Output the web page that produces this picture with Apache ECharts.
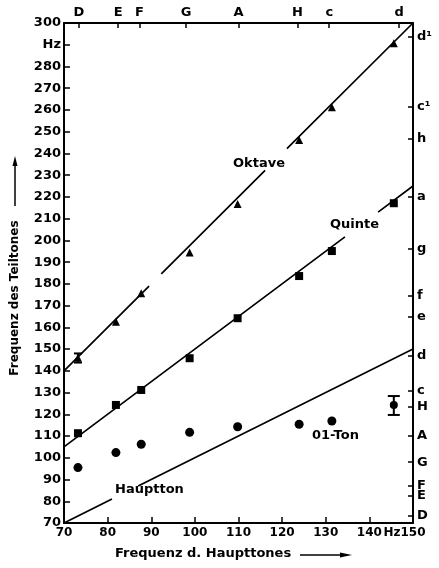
<!DOCTYPE html>
<html>
<head>
<meta charset="utf-8">
<script src="https://cdn.jsdelivr.net/npm/echarts@6/dist/echarts.min.js"></script>
<style>
  html, body { margin: 0; padding: 0; background: #fff; }
  #app { width: 439px; height: 568px; }
</style>
</head>
<body>
<div id="app"></div>
<script>
// Grundton-Frequenzen (x) der gemessenen Töne
const hauptX = [73.2, 81.9, 87.7, 98.8, 109.8, 123.9, 131.4, 145.6];
const oktave = [146, 162.6, 175.7, 194.4, 216.7, 246.2, 261.2, 290.7];
const quinte = [111.3, 124.3, 131.2, 145.8, 164.2, 183.6, 195.1, 217.1];
const olTon = [95.5, 102.4, 106.2, 111.7, 114.3, 115.4, 116.9];
// Fehlerbalken [x, unten, mitte, oben]
const olTonBar = [[145.6, 119.7, 124.3, 128.4]];
const oktaveBar = [[73.2, 143.8, 146, 148]];

// theoretische Linien (mit Lücken für die Beschriftung)
const oktaveLine = [[70, 140], [89.5, 179], null, [92.3, 184.6], [116.1, 232.2], null, [121.1, 242.2], [150, 300]];
const quinteLine = [[70, 105], [134.4, 201.6], null, [142, 213], [150, 225]];
const haupttonLine = [[70, 70], [81, 81], null, [87, 87], [150, 150]];

// Notennamen oben und rechts
const topNotes = ['D', 'E', 'F', 'G', 'A', 'H', 'c', 'd'];
const topFreqs = [73.4, 82.4, 87.3, 98.0, 110.0, 123.5, 130.8, 146.8];
const rightNotes = ['D', 'E', 'F', 'G', 'A', 'H', 'c', 'd', 'e', 'f', 'g', 'a', 'h', 'c¹', 'd¹'];
const rightFreqs = [73.4, 82.4, 87.3, 98.0, 110.0, 123.5, 130.8, 146.8, 164.8, 174.6, 196.0, 220.0, 246.9, 261.6, 293.7];

// Achsenbeschriftung unten
const bottomLabelValues = [70, 80, 90, 100, 110, 120, 130, 140, 145.2, 150];
const bottomLabels = ['70', '80', '90', '100', '110', '120', '130', '140', 'Hz', '150'];
const bottomTicks = [80, 90, 100, 110, 120, 130, 140];

const FONT = 'DejaVu Sans';
const lbl = { color: '#000', fontWeight: 'bold', fontSize: 13, fontFamily: FONT };

function pairs(xs, ys) {
  return ys.map((y, i) => [xs[i], y]);
}

function errorBar(capHalf) {
  return function (params, api) {
    const lo = api.coord([api.value(0), api.value(1)]);
    const hi = api.coord([api.value(0), api.value(3)]);
    const st = { stroke: '#000', lineWidth: 2 };
    return {
      type: 'group',
      children: [
        { type: 'line', shape: { x1: lo[0], y1: lo[1], x2: hi[0], y2: hi[1] }, style: st },
        { type: 'line', shape: { x1: lo[0] - capHalf, y1: lo[1], x2: lo[0] + capHalf, y2: lo[1] }, style: st },
        { type: 'line', shape: { x1: hi[0] - capHalf, y1: hi[1], x2: hi[0] + capHalf, y2: hi[1] }, style: st }
      ]
    };
  };
}

const chart = echarts.init(document.getElementById('app'));

const lineStyle = { color: '#000', width: 1.7 };
const dot = { color: '#000', opacity: 1 };

chart.setOption({
  animation: false,
  backgroundColor: '#fff',
  grid: { left: 64, right: 26, top: 23, bottom: 45 },
  xAxis: [
    {
      type: 'value', position: 'bottom', min: 70, max: 150, interval: 10,
      axisLine: { lineStyle: { color: '#000', width: 2 } },
      axisTick: { inside: true, length: 6, lineStyle: { color: '#000', width: 1.5 }, customValues: bottomTicks },
      axisLabel: Object.assign({
        margin: 4,
        hideOverlap: false,
        showMinLabel: true,
        showMaxLabel: true,
        customValues: bottomLabelValues,
        formatter: (v) => bottomLabels[bottomLabelValues.indexOf(v)]
      }, lbl, { fontSize: 12 }),
      splitLine: { show: false }
    },
    {
      type: 'value', position: 'top', min: 70, max: 150,
      axisLine: { lineStyle: { color: '#000', width: 2 } },
      axisTick: { inside: true, length: 5, lineStyle: { color: '#000', width: 1.5 }, customValues: topFreqs },
      axisLabel: Object.assign({
        margin: 4,
        hideOverlap: false,
        customValues: topFreqs,
        formatter: (v) => topNotes[topFreqs.indexOf(v)]
      }, lbl),
      splitLine: { show: false }
    }
  ],
  yAxis: [
    {
      type: 'value', position: 'left', min: 70, max: 300, interval: 10,
      axisLine: { lineStyle: { color: '#000', width: 2 } },
      axisTick: { inside: true, length: 6, lineStyle: { color: '#000', width: 1.5 } },
      axisLabel: Object.assign({
        margin: 3,
        formatter: (v) => (v === 290 ? 'Hz' : String(v))
      }, lbl),
      splitLine: { show: false }
    },
    {
      type: 'value', position: 'right', min: 70, max: 300,
      axisLine: { lineStyle: { color: '#000', width: 2 } },
      axisTick: { inside: true, length: 5, lineStyle: { color: '#000', width: 1.5 }, customValues: rightFreqs },
      axisLabel: Object.assign({
        margin: 4,
        hideOverlap: false,
        customValues: rightFreqs,
        formatter: (v) => rightNotes[rightFreqs.indexOf(v)]
      }, lbl),
      splitLine: { show: false }
    }
  ],
  series: [
    { type: 'line', data: oktaveLine, showSymbol: false, connectNulls: false, lineStyle: lineStyle, silent: true },
    { type: 'line', data: quinteLine, showSymbol: false, connectNulls: false, lineStyle: lineStyle, silent: true },
    { type: 'line', data: haupttonLine, showSymbol: false, connectNulls: false, lineStyle: lineStyle, silent: true },
    { type: 'scatter', data: pairs(hauptX, oktave), symbol: 'triangle', symbolSize: 8, itemStyle: dot },
    { type: 'scatter', data: pairs(hauptX, quinte), symbol: 'rect', symbolSize: 8, itemStyle: dot },
    { type: 'scatter', data: pairs(hauptX, olTon), symbol: 'circle', symbolSize: 9, itemStyle: dot },
    { type: 'scatter', data: olTonBar.map(d => [d[0], d[2]]), symbol: 'circle', symbolSize: 8, itemStyle: dot },
    { type: 'custom', data: olTonBar, renderItem: errorBar(6), encode: { x: 0, y: [1, 3] } },
    { type: 'custom', data: oktaveBar, renderItem: errorBar(4), encode: { x: 0, y: [1, 3] } }
  ],
  graphic: [
    { type: 'text', left: 233, top: 157, style: { text: 'Oktave', font: 'bold 13px "DejaVu Sans"', fill: '#000' } },
    { type: 'text', left: 330, top: 218, style: { text: 'Quinte', font: 'bold 13px "DejaVu Sans"', fill: '#000' } },
    { type: 'text', left: 115, top: 483, style: { text: 'Hauptton', font: 'bold 13px "DejaVu Sans"', fill: '#000' } },
    { type: 'text', left: 312, top: 429, style: { text: '01-Ton', font: 'bold 13px "DejaVu Sans"', fill: '#000' } },
    {
      type: 'text', x: 15, y: 298, rotation: Math.PI / 2,
      style: { text: 'Frequenz des Teiltones', font: 'bold 12px "DejaVu Sans"', fill: '#000', align: 'center', verticalAlign: 'middle' }
    },
    { type: 'line', shape: { x1: 15, y1: 206, x2: 15, y2: 164 }, style: { stroke: '#000', lineWidth: 1.5 } },
    { type: 'polygon', shape: { points: [[15, 156], [12.5, 166], [17.5, 166]] }, style: { fill: '#000' } },
    { type: 'text', left: 115, top: 547, style: { text: 'Frequenz d. Haupttones', font: 'bold 13px "DejaVu Sans"', fill: '#000' } },
    { type: 'line', shape: { x1: 300, y1: 555, x2: 342, y2: 555 }, style: { stroke: '#000', lineWidth: 1.5 } },
    { type: 'polygon', shape: { points: [[352, 555], [340, 552.5], [340, 557.5]] }, style: { fill: '#000' } }
  ]
});
</script>
</body>
</html>
